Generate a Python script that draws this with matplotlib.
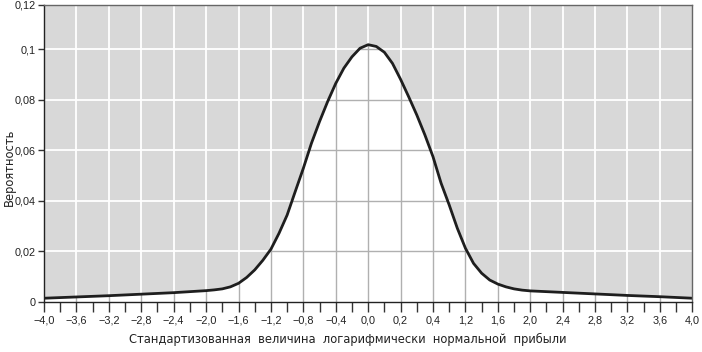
import numpy as np
import matplotlib
matplotlib.use("Agg")
import matplotlib.pyplot as plt

plt.rcParams['font.family'] = ['Liberation Sans', 'DejaVu Sans']

# read-off values of the curve
x_vals = [-4.0, -3.6, -3.2, -2.8, -2.4, -2.0, -1.9, -1.8, -1.7, -1.6,
          -1.5, -1.4, -1.3, -1.2, -1.1, -1.0, -0.9, -0.8, -0.7, -0.6,
          -0.5, -0.4, -0.3, -0.2, -0.1, 0.0, 0.1, 0.2, 0.3, 0.4,
          0.5, 0.6, 0.7, 0.8, 0.9, 1.0, 1.1, 1.2, 1.3, 1.4,
          1.5, 1.6, 1.7, 1.8, 1.9, 2.0, 2.4, 2.8, 3.2, 3.6, 4.0]
y_vals = [0.0015, 0.0020, 0.0025, 0.0031, 0.0037, 0.0045, 0.0048, 0.0052, 0.0060, 0.0074,
          0.0097, 0.0127, 0.0165, 0.0209, 0.0272, 0.0344, 0.0437, 0.0529, 0.0628, 0.0714,
          0.0793, 0.0865, 0.0925, 0.0970, 0.1004, 0.1018, 0.1011, 0.0988, 0.0944, 0.0881,
          0.0812, 0.0740, 0.0661, 0.0575, 0.0470, 0.0384, 0.0292, 0.0213, 0.0153, 0.0114,
          0.0087, 0.0071, 0.0060, 0.0052, 0.0047, 0.0044, 0.0038, 0.0032, 0.0026, 0.0021, 0.0015]

x_tick_pos = [-4.0, -3.6, -3.2, -2.8, -2.4, -2.0, -1.6, -1.2, -0.8, -0.4, 0.0,
              0.4, 0.8, 1.2, 1.6, 2.0, 2.4, 2.8, 3.2, 3.6, 4.0]
x_tick_labels = ["−4,0", "−3,6", "−3,2", "−2,8", "−2,4", "−2,0", "−1,6", "−1,2", "−0,8", "−0,4", "0,0",
                 "0,2", "0,4", "1,2", "1,6", "2,0", "2,4", "2,8", "3,2", "3,6", "4,0"]
y_tick_pos = [0, 0.02, 0.04, 0.06, 0.08, 0.10, 0.1175]
y_tick_labels = ["0", "0,02", "0,04", "0,06", "0,08", "0,1", "0,12"]

y_top = 0.1175
gray_bg = '#d8d8d8'

fig = plt.figure(figsize=(7.02, 3.52), dpi=100)
ax = fig.add_axes([0.0627, 0.142, 0.9235, 0.8438])
ax.set_facecolor('white')
ax.set_xlim(-4.0, 4.0)
ax.set_ylim(0, y_top)

grid_x = x_tick_pos[1:-1]
grid_y = y_tick_pos[1:-1]

# gray grid under the curve
for gx in grid_x:
    ax.axvline(gx, color='#b0b0b0', lw=1.0, zorder=1)
for gy in grid_y:
    ax.axhline(gy, color='#b0b0b0', lw=1.0, zorder=1)

# gray area above the curve
poly = ax.fill_between(x_vals, y_vals, y_top, color=gray_bg, lw=0, zorder=2)
clip = poly.get_paths()[0]

# white grid, only inside the gray area
for gx in grid_x:
    ln = ax.axvline(gx, color='white', lw=1.3, zorder=3)
    ln.set_clip_path(clip, ax.transData)
for gy in grid_y:
    ln = ax.axhline(gy, color='white', lw=1.3, zorder=3)
    ln.set_clip_path(clip, ax.transData)

ax.plot(x_vals, y_vals, color='#1e1e1e', lw=2.0, zorder=4,
        solid_joinstyle='round', solid_capstyle='round')

ax.set_xticks(x_tick_pos)
ax.set_xticklabels(x_tick_labels)
ax.set_xticks(np.arange(-3.8, 4.0, 0.4), minor=True)
ax.set_yticks(y_tick_pos)
ax.set_yticklabels(y_tick_labels)

ax.tick_params(axis='x', which='both', direction='out', length=7, width=1,
               color='#333333', labelsize=7.8, pad=3, labelcolor='#222222')
ax.tick_params(axis='y', direction='out', length=4, width=1,
               color='#333333', labelsize=7.8, pad=2, labelcolor='#222222')

for side in ['left', 'bottom']:
    ax.spines[side].set_color('#222222')
    ax.spines[side].set_linewidth(1.0)
for side in ['top', 'right']:
    ax.spines[side].set_color('#666666')
    ax.spines[side].set_linewidth(1.0)
for sp in ax.spines.values():
    sp.set_zorder(5)

fig.text(0.495, 0.018, "Стандартизованная  величина  логарифмически  нормальной  прибыли",
         ha='center', va='bottom', fontsize=8.3, color='#222222', family='DejaVu Sans')
fig.text(0.013, 0.526, "Вероятность", rotation=90, ha='center', va='center',
         fontsize=8.3, color='#222222', family='DejaVu Sans')

fig.savefig("out.png", dpi=100)
